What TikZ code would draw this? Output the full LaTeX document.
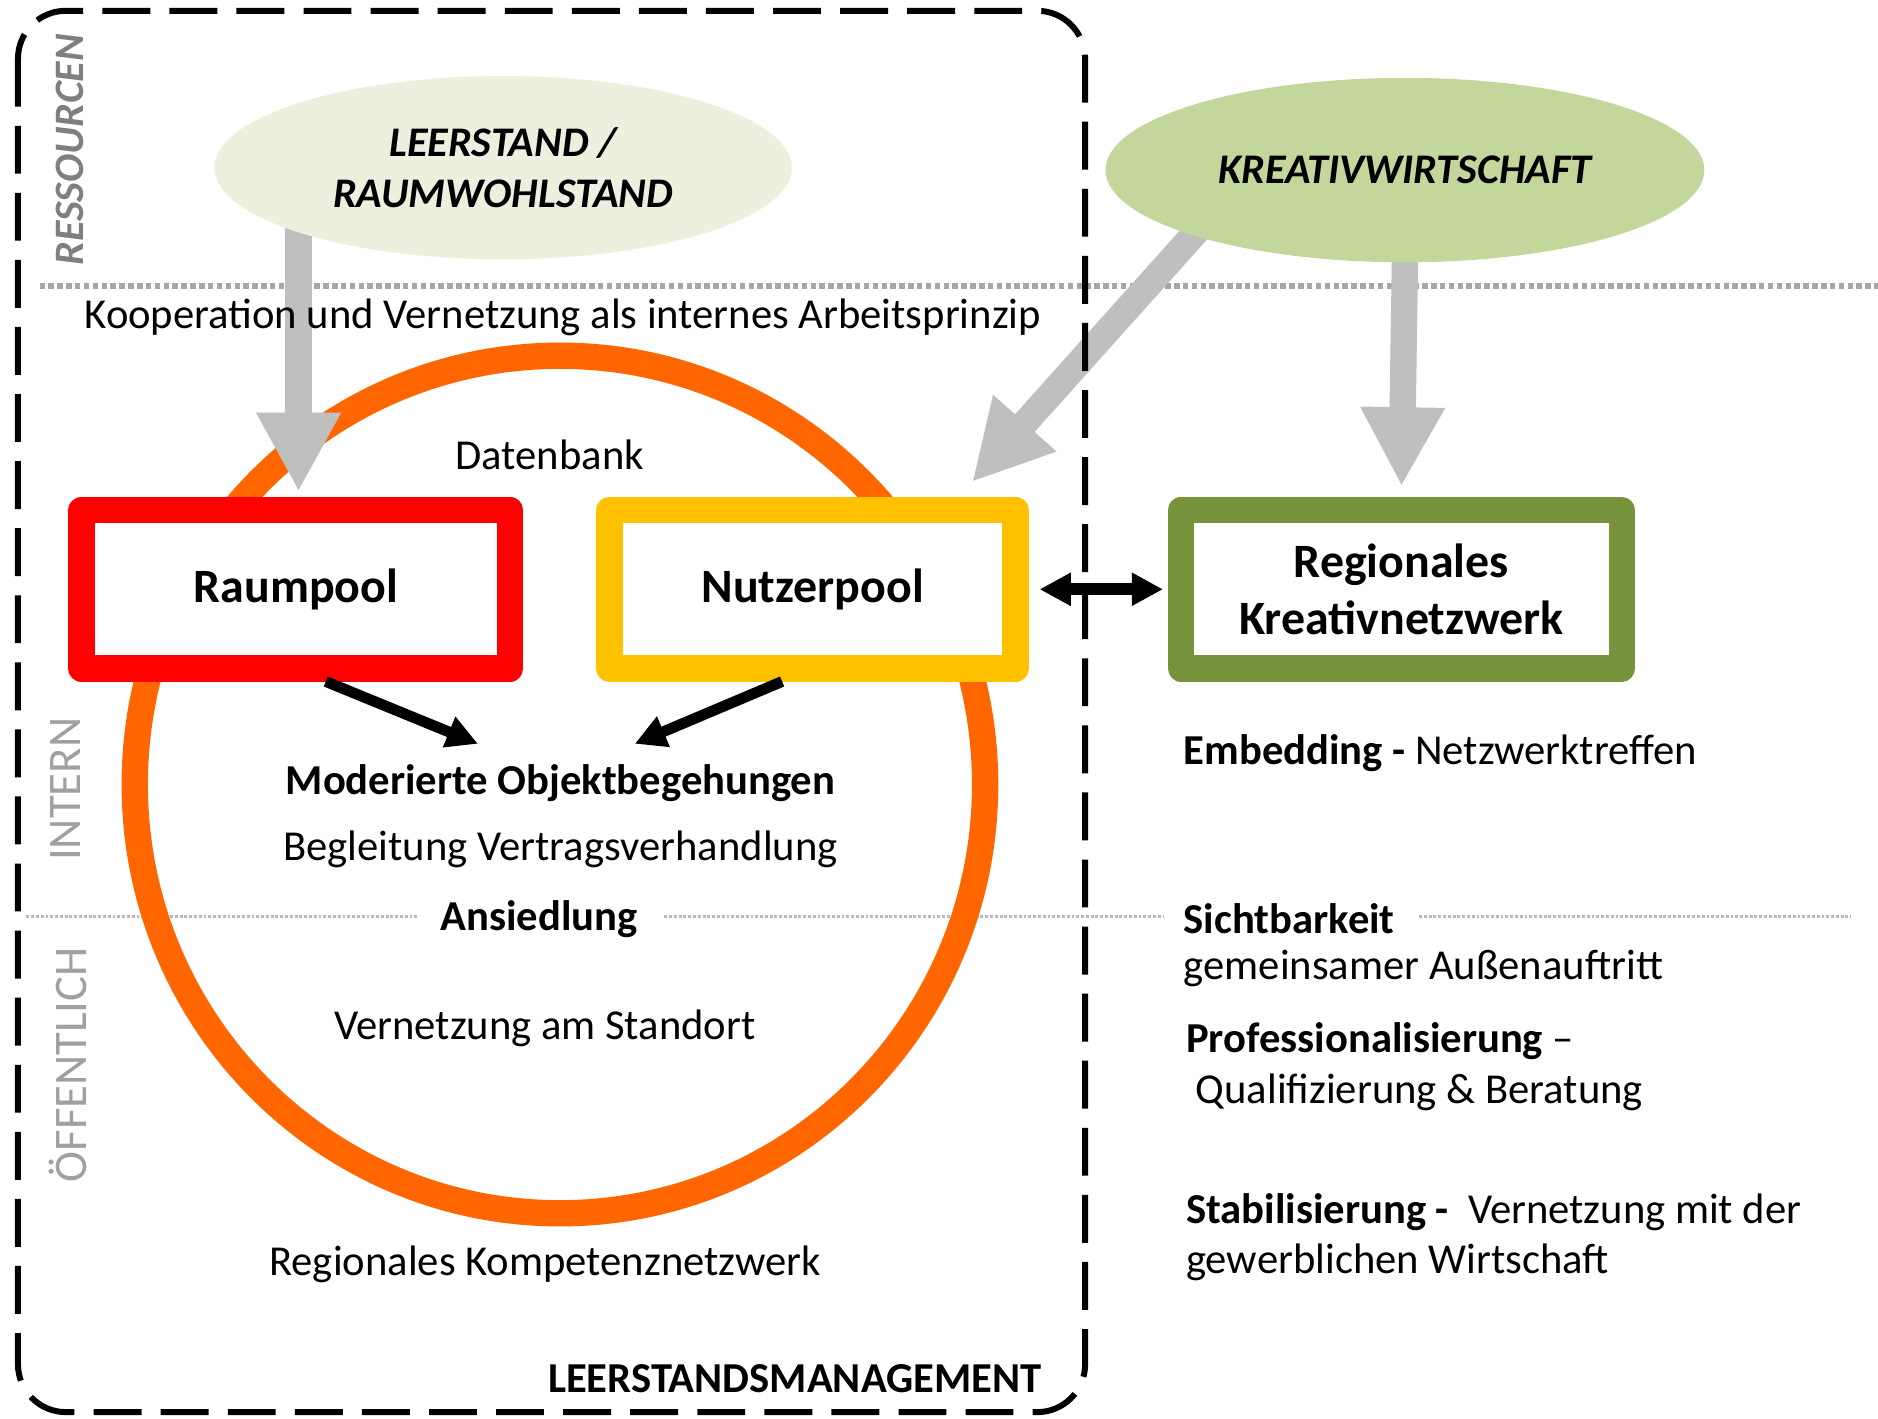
\documentclass[tikz,border=0pt]{standalone}
\usepackage{fontspec}
\setmainfont{Carlito}
\usetikzlibrary{arrows.meta,shapes.geometric,backgrounds}
\definecolor{kreisorange}{HTML}{FF6600}
\definecolor{raumrot}{HTML}{FF0000}
\definecolor{nutzergelb}{HTML}{FFC000}
\definecolor{netzgruen}{HTML}{77933C}
\definecolor{leerstandgruen}{HTML}{EBF1DE}
\definecolor{kreativgruen}{HTML}{C3D69B}
\definecolor{pfeilgrau}{HTML}{BFBFBF}
\definecolor{liniengrau}{HTML}{A6A6A6}
\definecolor{feingrau}{HTML}{B8B8B8}
\definecolor{seitengrau}{HTML}{7F7F7F}
\definecolor{hellgrau}{HTML}{A0A0A0}
\newcommand{\grundschrift}{\fontsize{17.8}{21}\selectfont}
\newcommand{\poolschrift}{\fontsize{20}{24}\selectfont\bfseries}
\begin{document}
\begin{tikzpicture}%
[x=0.5pt,y=-0.5pt,
every node/.style={inner sep=0pt, font=\grundschrift, align=center},
pool/.style={rectangle, fill=white, line width=11pt, line join=round,
minimum height=66pt, font=\poolschrift},
quelle/.style={ellipse, font=\fontsize{17.6}{21}\selectfont\bfseries\itshape},
grauerpfeil/.style={draw=pfeilgrau, line width=11pt,
-{Triangle[length=33pt,width=33pt]}},
schwarzerpfeil/.style={draw=black, line width=4.5pt,
-{Triangle[length=13pt,width=13pt]}},
seite/.style={rotate=90, text=hellgrau, font=\fontsize{19.5}{20}\selectfont},
punktlinie/.style={draw=liniengrau, line width=2.4pt, dash pattern=on 2.3pt off 1.4pt},
feinlinie/.style={draw=feingrau, line width=1.3pt, dash pattern=on 1.2pt off 0.8pt}]
\useasboundingbox (0,0) rectangle (1568,1184);

\node (leerstand) at (420,140) [quelle, fill=leerstandgruen, minimum width=241pt,
minimum height=76.5pt] {LEERSTAND /\\RAUMWOHLSTAND};
\node (kreativ) at (1173,142) [quelle, fill=kreativgruen, minimum width=250pt,
minimum height=77pt] {KREATIVWIRTSCHAFT};

\node (raumpool) at (247,492) [pool, draw=raumrot, minimum width=179pt] {Raumpool};
\node (nutzerpool) at (678.5,492) [pool, draw=nutzergelb, minimum width=169.5pt]
{Nutzerpool};
\node (netzwerk) at (1170,492) [pool, draw=netzgruen, minimum width=184pt]
{Regionales\\Kreativnetzwerk};

\node (kooperation) at (470,265) {Kooperation und Vernetzung als internes Arbeitsprinzip};
\node (datenbank) at (459,380) {Datenbank};
\node (objekt) at (468,654) [font=\grundschrift\bfseries] {Moderierte Objektbegehungen};
\node (vertrag) at (468,709) {Begleitung Vertragsverhandlung};
\node (ansiedlung) at (450,767) [font=\grundschrift\bfseries] {Ansiedlung};
\node (standort) at (455,859) {Vernetzung am Standort};
\node (kompetenz) at (455,1056) {Regionales Kompetenznetzwerk};
\node (management) at (870,1151) [anchor=east, font=\grundschrift\bfseries]
{LEERSTANDSMANAGEMENT};

\node (embedding) at (988,629) [anchor=west] {\textbf{Embedding -} Netzwerktreffen};
\node (sichtbarkeit) at (988,767) [anchor=west] {\textbf{Sichtbarkeit}};
\node (auftritt) at (988,809) [anchor=west] {gemeinsamer Außenauftritt};
\node (profi) at (990,869) [anchor=west] {\textbf{Professionalisierung} –};
\node (quali) at (998,912) [anchor=west] {Qualifizierung \& Beratung};
\node (stabil) at (990,1033) [anchor=west, align=left]
{\textbf{Stabilisierung -}\ \ Vernetzung mit der\\gewerblichen Wirtschaft};

\node (ressourcen) at (58,125) [rotate=90, text=seitengrau,
font=\fontsize{17.5}{20}\selectfont\bfseries\itshape] {RESSOURCEN};
\node (intern) at (55,659) [seite] {INTERN};
\node (oeffentlich) at (57,889) [seite] {ÖFFENTLICH};

\coordinate (ebeneA) at (33,239);
\coordinate (ebeneB) at (1568,239);
\coordinate (grenzeA) at (22,765);
\coordinate (grenzeB) at (1545,765);
\coordinate (ziellinks) at (399,621);
\coordinate (zielrechts) at (530,621);

\begin{pgfonlayer}{background}
\draw [punktlinie] (ebeneA) -- (ebeneB);
\draw [feinlinie] (grenzeA) -- ([xshift=-9pt]ansiedlung.west |- grenzeA);
\draw [feinlinie] ([xshift=11pt]ansiedlung.east |- grenzeA) --
([xshift=-8pt]sichtbarkeit.west |- grenzeA);
\draw [feinlinie] ([xshift=10pt]sichtbarkeit.east |- grenzeA) -- (grenzeB);
\draw [kreisorange, line width=11pt] (467.5,655) ellipse [x radius=177.5pt,
y radius=179pt];
\draw [grauerpfeil, shorten <=-10pt, shorten >=2.25pt] (leerstand.south west) --
(leerstand.south west |- raumpool.north);
\draw [grauerpfeil, shorten <=-10pt] (kreativ.south west) --
([xshift=-23.7pt,yshift=6.3pt]nutzerpool.north east);
\draw [grauerpfeil, shorten <=-10pt, shorten >=4.5pt] (kreativ.south) --
(netzwerk.north);
\end{pgfonlayer}

\draw [schwarzerpfeil] ([xshift=12.5pt]raumpool.south) -- (ziellinks);
\draw [schwarzerpfeil] ([xshift=-12.75pt]nutzerpool.south) -- (zielrechts);
\draw [schwarzerpfeil, line width=5pt, {Triangle[length=13pt,width=13pt]}-{Triangle[length=13pt,width=13pt]},
shorten <=4.5pt, shorten >=2pt] (nutzerpool.east) -- (netzwerk.west);

\draw [black, line width=2.5pt, dash pattern=on 20pt off 8pt, rounded corners=20pt]
(15,9) rectangle (906,1179);
\end{tikzpicture}
\end{document}
